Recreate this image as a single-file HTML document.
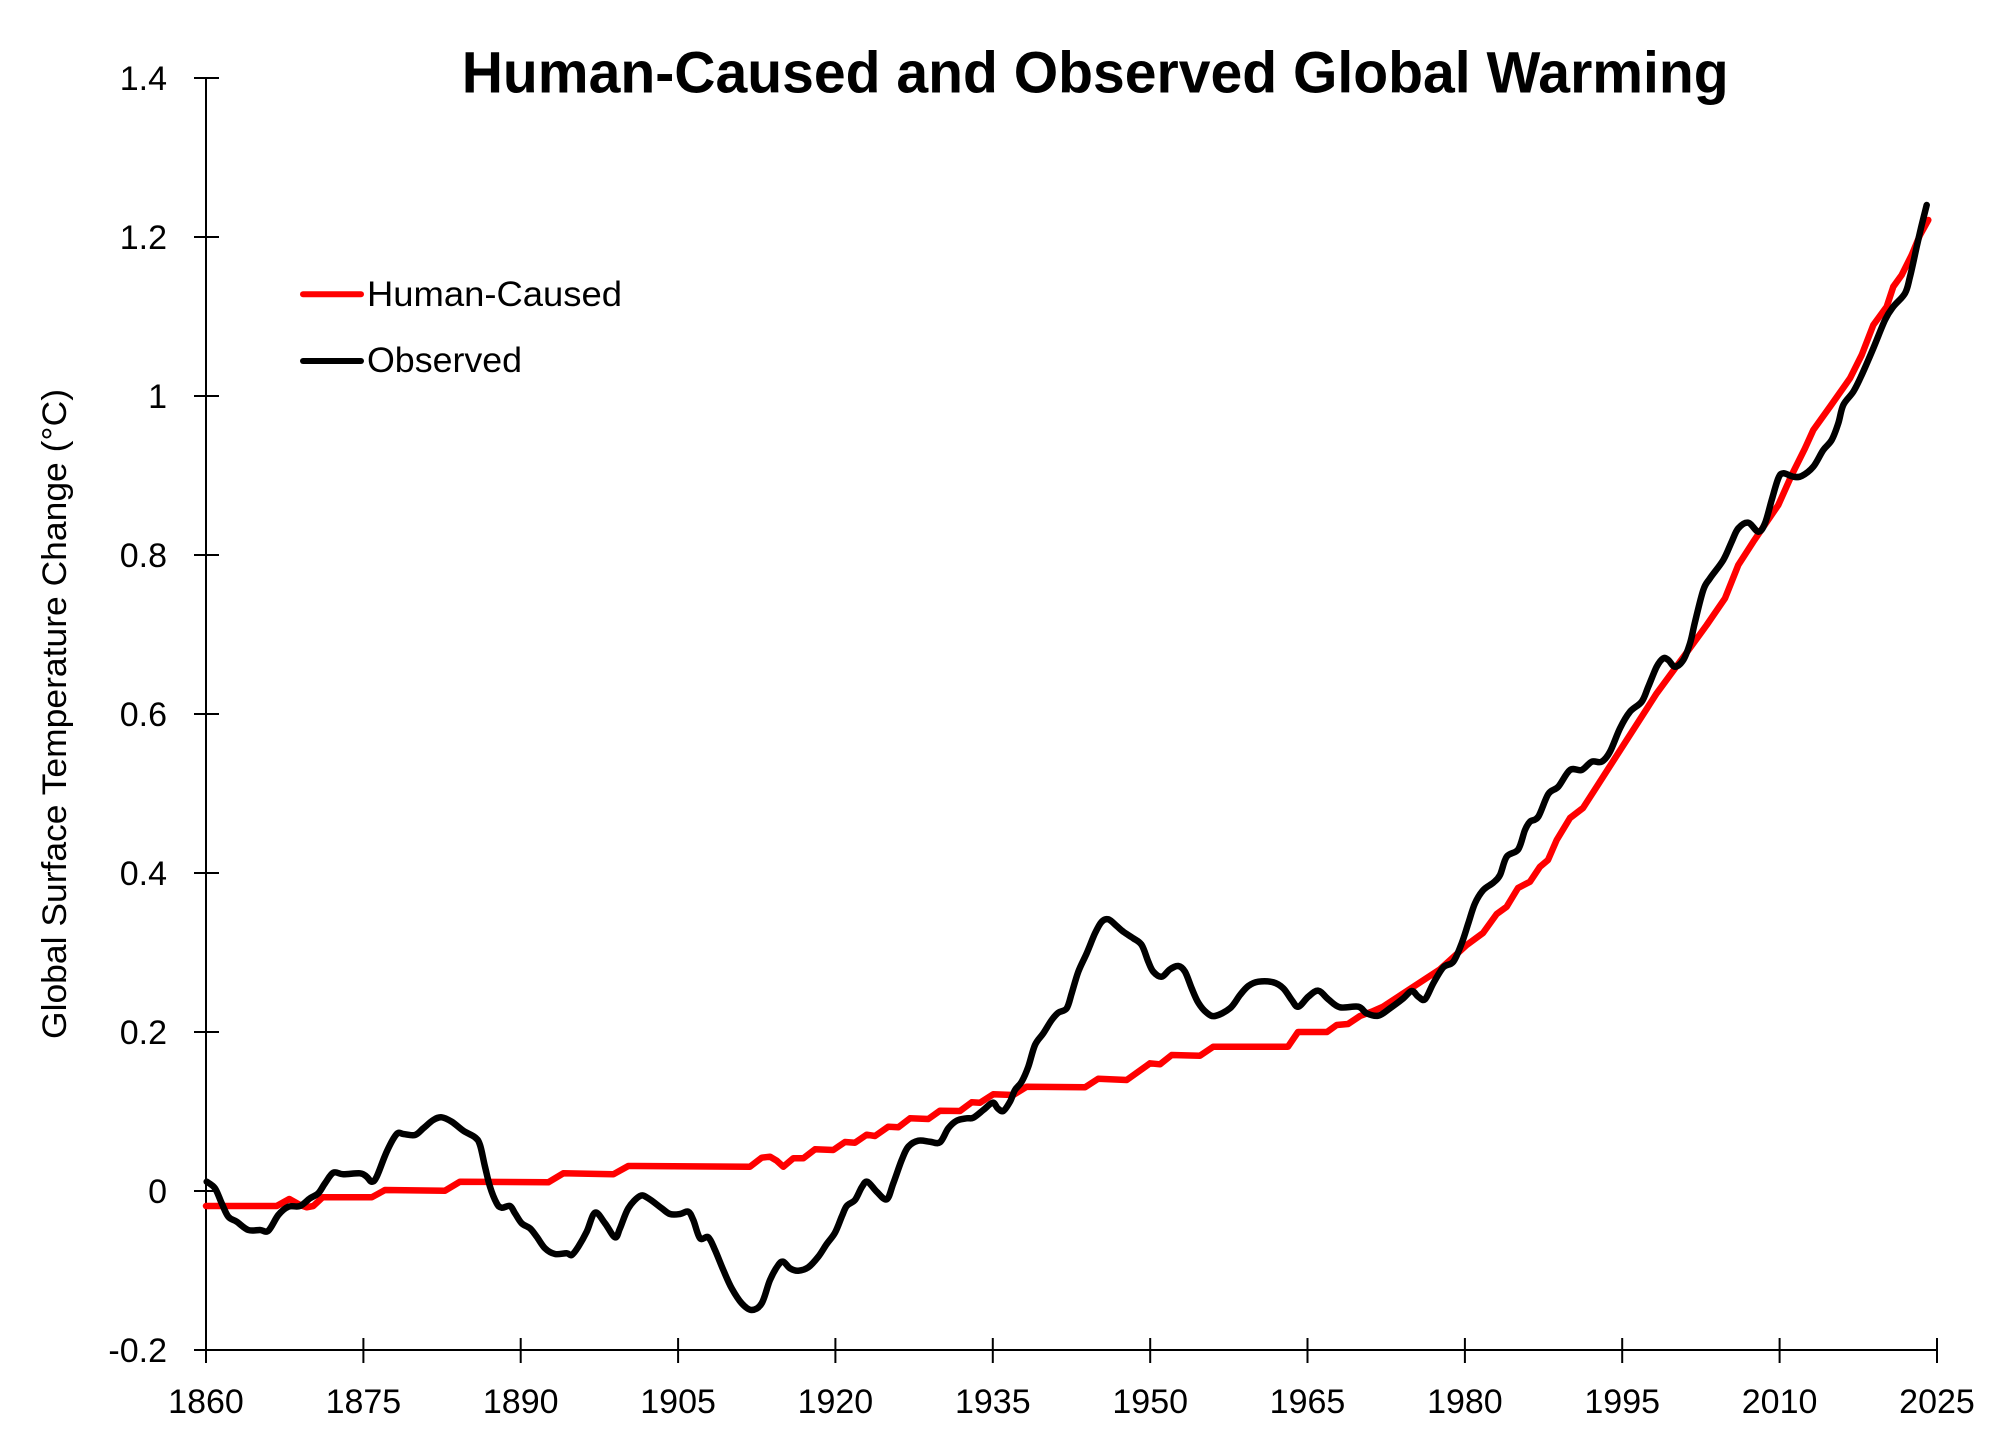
<!DOCTYPE html>
<html>
<head>
<meta charset="utf-8">
<style>
  html,body{margin:0;padding:0;background:#fff;}
  svg{display:block;}
  text{font-family:"Liberation Sans", Arial, sans-serif; fill:#000;}
</style>
</head>
<body>
<svg id="chart" width="2000" height="1452" viewBox="0 0 2000 1452" xmlns="http://www.w3.org/2000/svg">
  <rect x="0" y="0" width="2000" height="1452" fill="#fff"/>

  <!-- Title -->
  <text x="461.7" y="92.7" font-size="58" font-weight="bold" textLength="1267" lengthAdjust="spacingAndGlyphs">Human-Caused and Observed Global Warming</text>

  <!-- Axes -->
  <g stroke="#000" stroke-width="2" fill="none">
    <line x1="206" y1="78" x2="206" y2="1350"/>
    <line x1="194" y1="1350" x2="1937.5" y2="1350"/>
    <line x1="194" y1="78" x2="219" y2="78"/>
    <line x1="194" y1="237" x2="219" y2="237"/>
    <line x1="194" y1="396" x2="219" y2="396"/>
    <line x1="194" y1="555" x2="219" y2="555"/>
    <line x1="194" y1="714" x2="219" y2="714"/>
    <line x1="194" y1="873" x2="219" y2="873"/>
    <line x1="194" y1="1032" x2="219" y2="1032"/>
    <line x1="194" y1="1191" x2="219" y2="1191"/>
    <line x1="206" y1="1338" x2="206" y2="1363"/>
    <line x1="363.4" y1="1338" x2="363.4" y2="1363"/>
    <line x1="520.7" y1="1338" x2="520.7" y2="1363"/>
    <line x1="678.1" y1="1338" x2="678.1" y2="1363"/>
    <line x1="835.4" y1="1338" x2="835.4" y2="1363"/>
    <line x1="992.8" y1="1338" x2="992.8" y2="1363"/>
    <line x1="1150.2" y1="1338" x2="1150.2" y2="1363"/>
    <line x1="1307.5" y1="1338" x2="1307.5" y2="1363"/>
    <line x1="1464.9" y1="1338" x2="1464.9" y2="1363"/>
    <line x1="1622.2" y1="1338" x2="1622.2" y2="1363"/>
    <line x1="1779.6" y1="1338" x2="1779.6" y2="1363"/>
    <line x1="1937" y1="1338" x2="1937" y2="1363"/>
  </g>

  <!-- Y tick labels -->
  <g font-size="34" text-anchor="end">
    <text x="167" y="90">1.4</text>
    <text x="167" y="249">1.2</text>
    <text x="167" y="408">1</text>
    <text x="167" y="567">0.8</text>
    <text x="167" y="726">0.6</text>
    <text x="167" y="885">0.4</text>
    <text x="167" y="1044">0.2</text>
    <text x="167" y="1203">0</text>
    <text x="167" y="1362">-0.2</text>
  </g>

  <!-- X tick labels -->
  <g font-size="34" text-anchor="middle">
    <text x="206" y="1413">1860</text>
    <text x="363.4" y="1413">1875</text>
    <text x="520.7" y="1413">1890</text>
    <text x="678.1" y="1413">1905</text>
    <text x="835.4" y="1413">1920</text>
    <text x="992.8" y="1413">1935</text>
    <text x="1150.2" y="1413">1950</text>
    <text x="1307.5" y="1413">1965</text>
    <text x="1464.9" y="1413">1980</text>
    <text x="1622.2" y="1413">1995</text>
    <text x="1779.6" y="1413">2010</text>
    <text x="1937" y="1413">2025</text>
  </g>

  <!-- Y axis title -->
  <text transform="translate(66,714) rotate(-90)" font-size="34" text-anchor="middle" textLength="650" lengthAdjust="spacingAndGlyphs">Global Surface Temperature Change (°C)</text>

  <!-- Human-caused (red) -->
  <polyline fill="none" stroke="#ff0000" stroke-width="6.5" stroke-linejoin="round" stroke-linecap="round" points="206,1206 276.7,1206 289.3,1199 300,1205 306.7,1207.3 313.3,1206 322.7,1197.3 371.7,1197.3 385,1190 445,1190.7 460,1181.7 548.3,1182.3 563.3,1173.3 613.3,1174.3 628.3,1166 750,1166.7 761.7,1157.7 770,1156.7 776.7,1160.7 783.3,1166.7 793.3,1158.3 803.3,1158.3 815,1149.3 833.3,1150 845,1142 855,1142.7 866.7,1134.7 875,1136 888.3,1126.7 898.3,1127.3 910,1118.3 928.3,1119 940,1110.7 960,1111 971.7,1102.3 980,1102.7 993.3,1094.3 1013.3,1095 1026.7,1086.7 1085,1087.3 1098.3,1078.7 1126.7,1080 1150,1063.3 1160,1064.3 1171.7,1055 1200,1055.7 1213.3,1046.7 1288,1046.7 1298,1032 1327,1032 1336.7,1025 1348,1024 1360,1016 1371.7,1011.7 1383,1006.7 1440,969.3 1466.7,945 1483,933 1496.7,914 1506.7,906.7 1518,888 1530,881.7 1540,866.7 1548,860 1556.7,840 1570,818 1583,808 1596.7,786.7 1656.7,693.3 1690,648 1706.7,625 1725,598.3 1738.3,565 1753.3,541.7 1778.3,505 1791.7,475 1805,448.3 1813.3,430 1830,406.7 1850,378.3 1861.7,355 1873.3,325 1886.7,306.7 1893.3,286.7 1901.7,275 1911.7,255 1920,235 1928.3,220"/>

  <!-- Observed (black) -->
  <polyline class="smooth" fill="none" stroke="#000" stroke-width="6.5" stroke-linejoin="round" stroke-linecap="round" points="206.7,1181.7 215,1188.3 221.7,1203.3 228.3,1216.7 236.7,1221.7 248.3,1230 260,1230 268.3,1230.7 278.3,1215 288.3,1206.7 300,1206 310,1198.3 318.3,1193.3 325,1183.3 333.3,1172.7 343.3,1174.3 360,1173.3 366.7,1176.7 371.7,1181.7 376.7,1176.7 386.7,1151.7 396.7,1134 403.3,1134 415,1135 423.3,1128.3 433.3,1120 441.7,1117.3 451.7,1121.7 463.3,1130.7 475,1137.3 480,1145 485,1166.7 490,1186.7 496.7,1203.3 501.7,1207.7 510,1206 515,1213.3 521.7,1223.3 530,1228.3 536.7,1236.7 545,1248.3 555,1254 566.7,1253.3 571.7,1255 578.3,1246.7 586.7,1231.7 595,1212.7 605,1223.3 615,1237.3 620,1228.3 628.3,1208.3 640,1196 648.3,1198.3 661.7,1208.3 670,1214 680,1214 688.3,1211.7 693.3,1220 700,1238.3 708.3,1237.3 715,1250 723.3,1270 731.7,1288.3 741.7,1303.3 751.7,1310 761.7,1303.3 770,1280 778.3,1265 783.3,1261.7 790,1268.3 798.3,1270.7 808.3,1267.3 818.3,1256.7 826.7,1244 835,1232.7 841.7,1216.7 846.7,1206 855,1200 861.7,1187.3 867.3,1181.7 876.7,1191.7 886.7,1199.3 893.3,1183.3 901.7,1160 908.3,1146.7 918.3,1140.7 930,1141.7 940,1142.3 948.3,1128.3 956.7,1120.7 966.7,1118.3 973.3,1117.7 983.3,1110 992.7,1102.7 997.7,1108.3 1003.3,1111 1010,1101.7 1015,1090 1021.7,1081.7 1028.3,1066.7 1035,1045 1043.3,1033.3 1051.7,1020 1058.3,1012.7 1066.7,1008.3 1071.7,993.3 1078.3,971.7 1086.7,953.3 1095,933.3 1101.7,921.7 1108.3,919.3 1116.7,926 1123.3,931.7 1133.3,938.3 1141.7,945 1148.3,961.7 1153.3,971.7 1161.7,976.7 1170,969.3 1178.3,966 1185,971.7 1191.7,988.3 1198.3,1002.7 1206.7,1012.7 1215,1016 1230,1008.3 1240,995 1248.3,986 1258.3,981.7 1273.3,982.3 1283.3,988.3 1291.7,1000 1298.3,1006.7 1308.3,996.7 1318.3,990.7 1328.3,999.3 1340,1007.3 1358.3,1006.7 1366.7,1013.3 1378.3,1015.7 1390,1008.3 1403.3,998.3 1411.7,991 1418.3,996.7 1425,999.3 1433.3,983.3 1443.3,967.3 1453.3,961.7 1461.7,943.3 1468.3,923.3 1475,903.3 1483.3,890 1493.3,882.7 1500,875 1506.7,856.7 1518.3,849.3 1525,830 1530,821.7 1538.3,816.7 1548.3,794 1558.3,786.7 1570,770 1581.7,770 1591.7,761.7 1601.7,761.7 1610,751.7 1620,728.3 1630,711.7 1641.7,701.7 1648.3,686.7 1656.7,666.7 1663.3,658.3 1668.3,660 1675,666.7 1683.3,660 1690,643.3 1695,622 1703.3,590 1710,578.3 1723.3,560 1731.7,541.7 1738.3,528.3 1748.3,522.7 1758.3,531.7 1765,523.3 1771.7,500 1778.3,478.3 1783.3,473.3 1793.3,476.7 1801.7,476 1813.3,466.7 1823.3,450 1831.7,440 1838.3,423.3 1843.3,405 1853.3,391.7 1861.7,375 1873.3,348.3 1885,320 1893.3,306.7 1905,293.3 1910,276.7 1916.7,246.7 1921.7,225 1926.7,205"/>

  <!-- Legend -->
  <line x1="303" y1="294.3" x2="361" y2="294.3" stroke="#ff0000" stroke-width="6" stroke-linecap="round"/>
  <line x1="303" y1="361" x2="361" y2="361" stroke="#000" stroke-width="6" stroke-linecap="round"/>
  <text x="367" y="306" font-size="35" textLength="255" lengthAdjust="spacingAndGlyphs">Human-Caused</text>
  <text x="367" y="372" font-size="35" textLength="155" lengthAdjust="spacingAndGlyphs">Observed</text>
</svg>
<script>
(function(){
  try{
    var NS="http://www.w3.org/2000/svg";
    var pls=document.querySelectorAll("polyline.smooth");
    for(var k=0;k<pls.length;k++){
      var pl=pls[k];
      var raw=pl.getAttribute("points").trim().split(/\s+/);
      var p=[];
      for(var i=0;i<raw.length;i++){var c=raw[i].split(",");p.push([+c[0],+c[1]]);}
      if(p.length<3) continue;
      var t=1/6;
      var d="M"+p[0][0]+","+p[0][1];
      for(var i=0;i<p.length-1;i++){
        var p0=p[i>0?i-1:i],p1=p[i],p2=p[i+1],p3=p[i+2<p.length?i+2:i+1];
        var c1x=p1[0]+(p2[0]-p0[0])*t, c1y=p1[1]+(p2[1]-p0[1])*t;
        var c2x=p2[0]-(p3[0]-p1[0])*t, c2y=p2[1]-(p3[1]-p1[1])*t;
        d+=" C"+c1x.toFixed(1)+","+c1y.toFixed(1)+" "+c2x.toFixed(1)+","+c2y.toFixed(1)+" "+p2[0]+","+p2[1];
      }
      var path=document.createElementNS(NS,"path");
      path.setAttribute("d",d);
      path.setAttribute("fill","none");
      path.setAttribute("stroke",pl.getAttribute("stroke"));
      path.setAttribute("stroke-width",pl.getAttribute("stroke-width"));
      path.setAttribute("stroke-linejoin","round");
      path.setAttribute("stroke-linecap","round");
      pl.parentNode.replaceChild(path,pl);
    }
  }catch(e){}
})();
</script>
</body>
</html>
